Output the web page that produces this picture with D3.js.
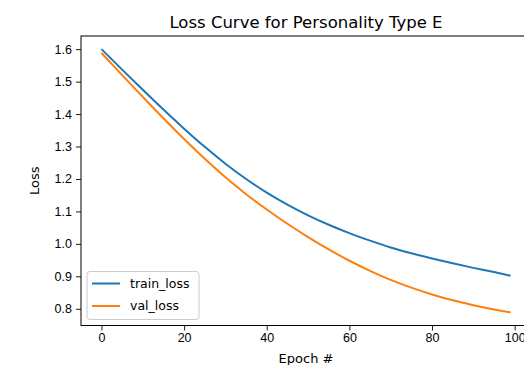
<!DOCTYPE html>
<html>
<head>
<meta charset="utf-8">
<script src="https://cdn.jsdelivr.net/npm/d3@7"></script>
<style>
    body { margin: 0; background: #fff; }
    svg { display: block; font-family: "DejaVu Sans", sans-serif; }
</style>
</head>
<body>
<div id="chart"></div>
<script>
// DATA
const epochs    = [0, 5, 10, 15, 20, 25, 30, 35, 40, 45, 50, 55, 60, 65, 70, 75, 80, 85, 90, 95, 99];
const trainLoss = [1.600, 1.537, 1.475, 1.414, 1.355, 1.299, 1.247, 1.200, 1.158, 1.121, 1.088, 1.059,
                   1.033, 1.010, 0.989, 0.971, 0.955, 0.940, 0.926, 0.913, 0.902];
const valLoss   = [1.588, 1.520, 1.453, 1.387, 1.323, 1.262, 1.205, 1.153, 1.106, 1.062, 1.021, 0.983,
                   0.948, 0.917, 0.889, 0.865, 0.844, 0.826, 0.811, 0.798, 0.789];
const seriesNames = ["train_loss", "val_loss"];
const seriesColors = ["#1f77b4", "#ff7f0e"];
const xTicks = [0, 20, 40, 60, 80, 100];
const yTicks = [0.8, 0.9, 1.0, 1.1, 1.2, 1.3, 1.4, 1.5, 1.6];
const titleText = "Loss Curve for Personality Type E";
const xLabel = "Epoch #";
const yLabel = "Loss";

// MARGIN CONVENTIONS (right edge of the axes falls outside the picture)
const margin = { top: 36, right: -7, bottom: 39.5, left: 81 };
const outerWidth = 524;
const outerHeight = 365;
const width = outerWidth - margin.left - margin.right;
const height = outerHeight - margin.top - margin.bottom;

const svg = d3.select("#chart").append("svg")
    .attr("width", outerWidth)
    .attr("height", outerHeight);

const g = svg.append("g")
    .attr("transform", `translate(${margin.left}, ${margin.top})`);

const series = seriesNames.map((name, i) => ({
    name: name,
    color: seriesColors[i],
    values: epochs.map((e, j) => ({ epoch: e, loss: i === 0 ? trainLoss[j] : valLoss[j] }))
}));

// scales, with matplotlib's 5% auto margins
const xExt = d3.extent(epochs);
const xPad = (xExt[1] - xExt[0]) * 0.05;
const x = d3.scaleLinear()
    .domain([xExt[0] - xPad, xExt[1] + xPad])
    .range([0, width]);

const yExt = d3.extent(trainLoss.concat(valLoss));
const yPad = (yExt[1] - yExt[0]) * 0.05;
const y = d3.scaleLinear()
    .domain([yExt[0] - yPad, yExt[1] + yPad])
    .range([height, 0]);

// lines
const line = d3.line()
    .x(d => x(d.epoch))
    .y(d => y(d.loss))
    .curve(d3.curveMonotoneX);

g.selectAll(".series")
    .data(series)
    .enter()
    .append("path")
    .attr("class", "series")
    .attr("fill", "none")
    .attr("stroke", d => d.color)
    .attr("stroke-width", 2)
    .attr("d", d => line(d.values));

// axes
const xAxis = g.append("g")
    .attr("transform", `translate(0, ${height})`)
    .call(d3.axisBottom(x).tickValues(xTicks).tickSize(5).tickPadding(3).tickFormat(d3.format("d")));
xAxis.select(".domain").remove();

const yAxis = g.append("g")
    .call(d3.axisLeft(y).tickValues(yTicks).tickSize(5).tickPadding(4).tickFormat(d3.format(".1f")));
yAxis.select(".domain").remove();

g.selectAll(".tick text")
    .attr("fill", "#000")
    .style("font-size", "12.5px");
g.selectAll(".tick line")
    .attr("stroke", "#000")
    .attr("stroke-width", 0.9);

// spines
g.append("rect")
    .attr("x", 0)
    .attr("y", 0)
    .attr("width", width)
    .attr("height", height)
    .attr("fill", "none")
    .attr("stroke", "#000")
    .attr("stroke-width", 1);

// labels
svg.append("text")
    .attr("text-anchor", "middle")
    .attr("x", margin.left + width / 2)
    .attr("y", 28)
    .style("font-size", "16.5px")
    .text(titleText);

g.append("text")
    .attr("text-anchor", "middle")
    .attr("x", width / 2)
    .attr("y", height + 37)
    .style("font-size", "13px")
    .text(xLabel);

g.append("text")
    .attr("text-anchor", "middle")
    .attr("transform", "rotate(-90)")
    .attr("x", -height / 2)
    .attr("y", -42)
    .style("font-size", "13px")
    .text(yLabel);

// legend
const legend = g.append("g")
    .attr("transform", `translate(6, ${height - 54})`);

legend.append("rect")
    .attr("width", 112)
    .attr("height", 48)
    .attr("rx", 3)
    .attr("fill", "#fff")
    .attr("fill-opacity", 0.8)
    .attr("stroke", "#ccc")
    .attr("stroke-width", 1);

const items = legend.selectAll(".item")
    .data(series)
    .enter()
    .append("g")
    .attr("class", "item")
    .attr("transform", (d, i) => `translate(0, ${12 + i * 22.5})`);

items.append("line")
    .attr("x1", 5)
    .attr("x2", 33)
    .attr("stroke", d => d.color)
    .attr("stroke-width", 2);

items.append("text")
    .attr("x", 43)
    .attr("dy", "0.35em")
    .style("font-size", "12.5px")
    .text(d => d.name);
</script>
</body>
</html>
